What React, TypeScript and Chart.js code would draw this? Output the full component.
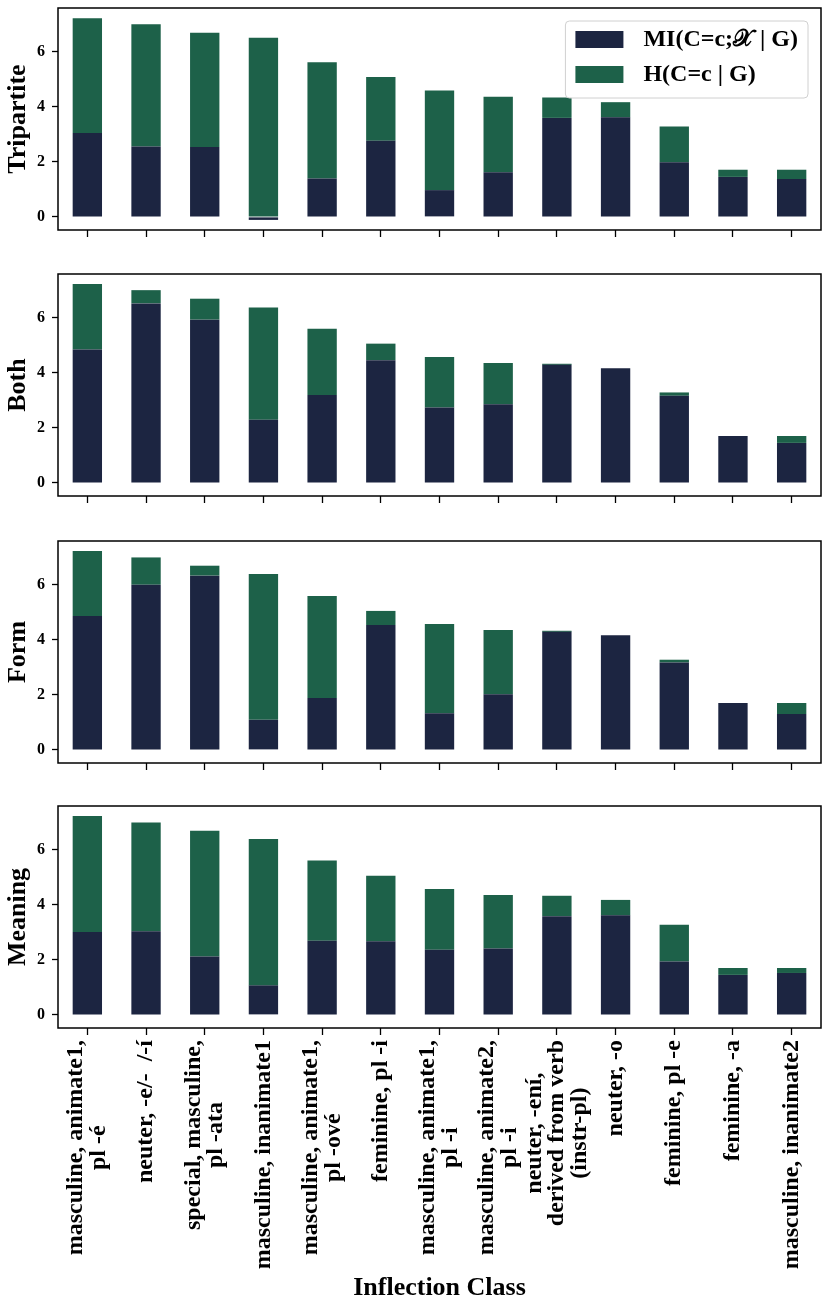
import React, { useEffect, useRef } from "react";
import { Chart, registerables } from "chart.js";

Chart.register(...registerables);

// ---------------- data ----------------
const categories: string[][] = [
  ["masculine, animate1,", "pl -é"],
  ["neuter, -e/-  /-í"],
  ["special, masculine,", "pl -ata"],
  ["masculine, inanimate1"],
  ["masculine, animate1,", "pl -ové"],
  ["feminine, pl -i"],
  ["masculine, animate1,", "pl -i"],
  ["masculine, animate2,", "pl -i"],
  ["neuter, -ení,", "derived from verb", "(instr-pl)"],
  ["neuter, -o"],
  ["feminine, pl -e"],
  ["feminine, -a"],
  ["masculine, inanimate2"],
];

const seriesLabels = ["MI(C=c;\u{1D4B3} | G)", "H(C=c | G)"];
const panelNames = ["Tripartite", "Both", "Form", "Meaning"];
const xAxisTitle = "Inflection Class";
const yTickValues = [0, 2, 4, 6];

const tripartiteMI = [3.04, 2.55, 2.53, -0.11, 1.39, 2.76, 0.97, 1.62, 3.59, 3.61, 1.98, 1.45, 1.37];
const tripartiteH = [4.16, 4.44, 4.15, 6.5, 4.22, 2.31, 3.61, 2.74, 0.74, 0.55, 1.3, 0.26, 0.34];

const bothMI = [4.84, 6.51, 5.92, 2.29, 3.19, 4.45, 2.73, 2.85, 4.28, 4.16, 3.16, 1.7, 1.45];
const bothH = [2.37, 0.48, 0.76, 4.07, 2.4, 0.6, 1.84, 1.5, 0.04, 0.0, 0.12, 0.0, 0.25];

const formMI = [4.86, 5.99, 6.32, 1.09, 1.88, 4.53, 1.33, 2.02, 4.28, 4.16, 3.17, 1.7, 1.3];
const formH = [2.35, 0.99, 0.36, 5.29, 3.7, 0.51, 3.24, 2.33, 0.04, 0.0, 0.1, 0.0, 0.4];

const meaningMI = [3.01, 3.03, 2.12, 1.07, 2.69, 2.67, 2.36, 2.41, 3.58, 3.61, 1.94, 1.45, 1.52];
const meaningH = [4.2, 3.95, 4.56, 5.31, 2.91, 2.38, 2.21, 1.94, 0.74, 0.56, 1.33, 0.25, 0.18];

const panelMI = [tripartiteMI, bothMI, formMI, meaningMI];
const panelH = [tripartiteH, bothH, formH, meaningH];

// ---------------- style ----------------
const NAVY = "#1c2541";
const GREEN = "#1d6149";
const FONT = "'Liberation Serif', 'Times New Roman', serif";

const W = 830;
const PAGE_H = 1309;
const AREA_TOP_PAD = 20;
const AREA_H = 222;
const AXIS_LEFT = 58;
const RIGHT_PAD = 9;
const axTops = [8, 274, 541, 806];

Chart.defaults.color = "#000";

// shared y range (like sharey in matplotlib), 5% margins
function yRange() {
  let lo = 0;
  let hi = 0;
  for (let p = 0; p < panelMI.length; p++) {
    for (let i = 0; i < categories.length; i++) {
      const vals = [panelMI[p][i], panelH[p][i]];
      let pos = 0;
      let neg = 0;
      vals.forEach((v) => (v >= 0 ? (pos += v) : (neg += v)));
      lo = Math.min(lo, neg);
      hi = Math.max(hi, pos);
    }
  }
  const m = (hi - lo) * 0.05;
  return [lo - m, hi + m];
}
const [Y_MIN, Y_MAX] = yRange();

const framePlugin = {
  id: "frame",
  afterDraw(chart: any) {
    const { ctx, chartArea: a } = chart;
    ctx.save();
    ctx.strokeStyle = "#000";
    ctx.lineWidth = 1.5;
    ctx.strokeRect(a.left, a.top, a.right - a.left, a.bottom - a.top);
    ctx.restore();
  },
};

const legendPlugin = {
  id: "boxLegend",
  afterDraw(chart: any) {
    const { ctx, chartArea: a } = chart;
    const ds = chart.data.datasets;
    ctx.save();
    ctx.font = `bold 24px ${FONT}`;
    const tw = Math.max(...ds.map((d: any) => ctx.measureText(d.label).width));
    const patchW = 48;
    const patchH = 17;
    const padL = 10;
    const gap = 20;
    const padR = 10;
    const boxW = padL + patchW + gap + tw + padR;
    const boxH = 77;
    const x0 = a.right - 13 - boxW;
    const y0 = a.top + 13;
    ctx.beginPath();
    ctx.roundRect(x0, y0, boxW, boxH, 4);
    ctx.fillStyle = "rgba(255,255,255,0.85)";
    ctx.fill();
    ctx.strokeStyle = "#d0d0d0";
    ctx.lineWidth = 1;
    ctx.stroke();
    ds.forEach((d: any, k: number) => {
      const cy = y0 + 18.5 + k * 35;
      ctx.fillStyle = d.backgroundColor;
      ctx.fillRect(x0 + padL, cy - patchH / 2, patchW, patchH);
      ctx.fillStyle = "#000";
      ctx.textAlign = "left";
      ctx.textBaseline = "middle";
      ctx.fillText(d.label, x0 + padL + patchW + gap, cy);
    });
    ctx.restore();
  },
};

const xLabelPlugin = {
  id: "xLabels",
  afterDraw(chart: any) {
    const { ctx, chartArea: a } = chart;
    const xs = chart.scales.x;
    const LH = 22.5;
    ctx.save();
    ctx.font = `bold 24px ${FONT}`;
    ctx.fillStyle = "#000";
    ctx.textAlign = "center";
    ctx.textBaseline = "middle";
    categories.forEach((lines, i) => {
      const x = xs.getPixelForValue(i);
      const yTop = a.bottom + 12;
      const w = Math.max(...lines.map((l) => ctx.measureText(l).width));
      ctx.save();
      ctx.translate(x, yTop);
      ctx.rotate(-Math.PI / 2);
      lines.forEach((l, k) => {
        ctx.fillText(l, -w / 2, (k - (lines.length - 1) / 2) * LH);
      });
      ctx.restore();
    });
    ctx.restore();
  },
};

type PanelProps = { index: number };

function Panel({ index }: PanelProps) {
  const ref = useRef<HTMLCanvasElement | null>(null);
  const isFirst = index === 0;
  const isLast = index === panelNames.length - 1;
  const canvasTop = axTops[index] - AREA_TOP_PAD;
  const canvasH = isLast ? PAGE_H - canvasTop : AREA_TOP_PAD + AREA_H + 24;
  const xAxisH = canvasH - AREA_TOP_PAD - AREA_H;

  useEffect(() => {
    if (!ref.current) return;
    const plugins: any[] = [framePlugin];
    if (isFirst) plugins.push(legendPlugin);
    if (isLast) plugins.push(xLabelPlugin);
    const chart = new Chart(ref.current, {
      type: "bar",
      data: {
        labels: categories.map((c) => c.join(" ")),
        datasets: [
          {
            label: seriesLabels[0],
            data: panelMI[index],
            backgroundColor: NAVY,
            borderWidth: 0,
            barPercentage: 0.5,
            categoryPercentage: 1.0,
          },
          {
            label: seriesLabels[1],
            data: panelH[index],
            backgroundColor: GREEN,
            borderWidth: 0,
            barPercentage: 0.5,
            categoryPercentage: 1.0,
          },
        ],
      },
      options: {
        animation: false,
        responsive: false,
        devicePixelRatio: window.devicePixelRatio || 1,
        layout: { padding: { top: AREA_TOP_PAD, left: 0, right: RIGHT_PAD, bottom: 0 } },
        plugins: {
          legend: { display: false },
          tooltip: { enabled: false },
        },
        scales: {
          x: {
            stacked: true,
            offset: true,
            border: { display: false },
            grid: {
              display: true,
              offset: false,
              drawOnChartArea: false,
              drawTicks: true,
              tickLength: 7,
              tickWidth: 1.3,
              tickColor: "#000",
            },
            ticks: {
              autoSkip: false,
              maxRotation: 0,
              minRotation: 0,
              callback: () => "",
            },
            title: {
              display: isLast,
              text: xAxisTitle,
              color: "#000",
              font: { family: FONT, size: 26, weight: "bold" },
              padding: { top: 0, bottom: 5 },
            },
            afterFit: (s: any) => {
              s.height = xAxisH;
            },
          },
          y: {
            stacked: true,
            min: Y_MIN,
            max: Y_MAX,
            border: { display: false },
            grid: {
              display: true,
              drawOnChartArea: false,
              drawTicks: true,
              tickLength: 6,
              tickWidth: 1.3,
              tickColor: "#000",
            },
            ticks: {
              padding: 7,
              color: "#000",
              font: { family: FONT, size: 16, weight: "bold" },
            },
            afterBuildTicks: (s: any) => {
              s.ticks = yTickValues.map((v) => ({ value: v }));
            },
            title: {
              display: true,
              text: panelNames[index],
              color: "#000",
              font: { family: FONT, size: 26, weight: "bold" },
              padding: { top: 3, bottom: 0 },
            },
            afterFit: (s: any) => {
              s.width = AXIS_LEFT;
            },
          },
        },
      },
      plugins,
    } as any);
    return () => chart.destroy();
  }, [index]);

  return (
    <canvas
      ref={ref}
      width={W}
      height={canvasH}
      style={{ position: "absolute", left: 0, top: canvasTop, width: W, height: canvasH }}
    />
  );
}

export default function App() {
  return (
    <div style={{ position: "absolute", left: 0, top: 0, width: W, height: PAGE_H, background: "#fff", overflow: "hidden" }}>
      {panelNames.map((_, i) => (
        <Panel key={i} index={i} />
      ))}
    </div>
  );
}
